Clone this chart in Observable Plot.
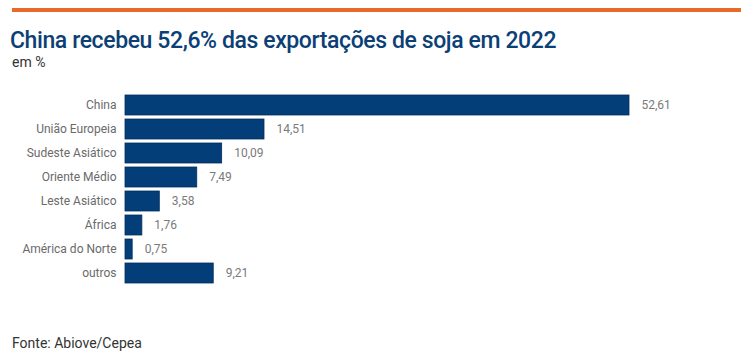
<!DOCTYPE html>
<html>
<head>
<meta charset="utf-8">
<script src="https://cdn.jsdelivr.net/npm/d3@7"></script>
<script src="https://cdn.jsdelivr.net/npm/@observablehq/plot@0.6"></script>
<style>
  html, body { margin: 0; padding: 0; background: #fff; width: 747px; height: 355px; overflow: hidden; position: relative; font-family: Roboto, sans-serif; }
  #rule { position: absolute; left: 12px; top: 8px; width: 729px; height: 4px; background: #e8692a; }
  #title { position: absolute; left: 10px; top: 27px; font-size: 23px; font-weight: 500; color: #0b3f75; letter-spacing: -0.4px; white-space: nowrap; }
  #subtitle { position: absolute; left: 12px; top: 54px; font-size: 14px; color: #333; }
  #chart { position: absolute; left: 0; top: 80px; }
  #source { position: absolute; left: 12px; top: 335px; font-size: 14px; color: #333; }
</style>
</head>
<body>
<div id="rule"></div>
<div id="title">China recebeu 52,6% das exportações de soja em 2022</div>
<div id="subtitle">em %</div>
<div id="chart"></div>
<div id="source">Fonte: Abiove/Cepea</div>
<script>
const regioes = ["China", "União Europeia", "Sudeste Asiático", "Oriente Médio", "Leste Asiático", "África", "América do Norte", "outros"];
const participacao = [52.61, 14.51, 10.09, 7.49, 3.58, 1.76, 0.75, 9.21];

const data = regioes.map((r, i) => ({regiao: r, valor: participacao[i]}));
const fmt = v => v.toFixed(2).replace(".", ",");

const chart = Plot.plot({
  width: 747,
  height: 216,
  marginLeft: 125,
  marginRight: 118,
  marginTop: 8.6,
  marginBottom: 7.8,
  style: {fontFamily: "Roboto, sans-serif", fontSize: "12px", background: "transparent"},
  x: {domain: [0, d3.max(participacao)], axis: null},
  y: {domain: regioes, padding: 0.18, label: null, tickSize: 0, tickPadding: 9},
  marks: [
    Plot.barX(data, {x: "valor", y: "regiao", fill: "#043e78", stroke: "#022f5e", strokeWidth: 0.8}),
    Plot.text(data, {x: "valor", y: "regiao", text: d => fmt(d.valor), textAnchor: "start", dx: 12, fill: "#7a7a7a", fontSize: 12}),
    Plot.axisY({tickSize: 0, tickPadding: 9, color: "#6a6a6a", fontSize: 12, label: null})
  ]
});
document.getElementById("chart").appendChild(chart);
</script>
</body>
</html>
